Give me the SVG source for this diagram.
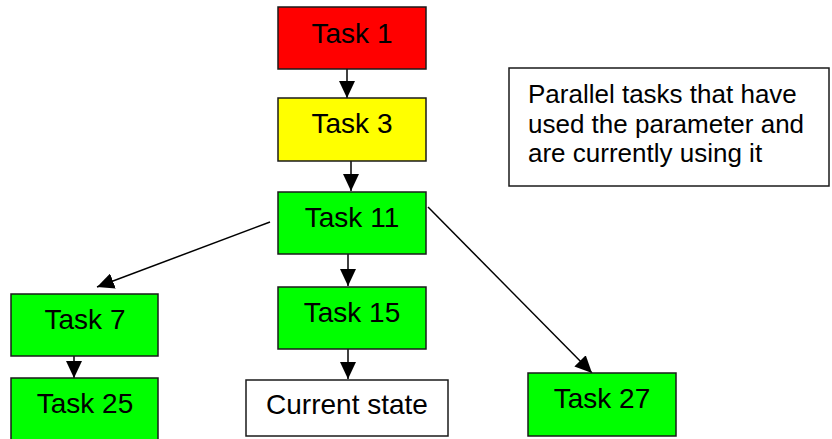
<svg xmlns="http://www.w3.org/2000/svg" width="832" height="439" viewBox="0 0 832 439">
<style>
.box{stroke:#1a1a1a;stroke-width:1.5}
.lbl{font-family:"Liberation Sans",Arial,sans-serif;font-size:28px;fill:#000;text-anchor:middle}
.note{font-family:"Liberation Sans",Arial,sans-serif;font-size:26px;fill:#000}
.edge{stroke:#000;stroke-width:1.5;fill:none;marker-end:url(#ah)}
</style>
<defs>
<marker id="ah" markerUnits="userSpaceOnUse" markerWidth="17" markerHeight="16" refX="17" refY="8" orient="auto" viewBox="0 0 17 16">
<path d="M0,0 L17,8 L0,16 z" fill="#000"/>
</marker>
</defs>
<rect width="832" height="439" fill="#fff"/>
<g id="connectors">
<line class="edge" x1="347" y1="69" x2="347" y2="98"/>
<line class="edge" x1="351" y1="161" x2="351" y2="191"/>
<line class="edge" x1="348" y1="254" x2="348" y2="286"/>
<line class="edge" x1="348" y1="349" x2="348" y2="379"/>
<line class="edge" x1="74" y1="356" x2="74" y2="378"/>
<line class="edge" x1="270" y1="222" x2="97" y2="287"/>
<line class="edge" x1="428" y1="207" x2="592" y2="373"/>
</g>
<g id="task1"><rect class="box" x="278" y="7" width="148" height="62" fill="#ff0000"/><text class="lbl" x="352" y="43">Task 1</text></g>
<g id="task3"><rect class="box" x="278" y="98" width="148" height="63" fill="#ffff00"/><text class="lbl" x="352" y="133">Task 3</text></g>
<g id="task11"><rect class="box" x="278" y="192" width="148" height="62" fill="#00ff00"/><text class="lbl" x="352" y="227">Task 11</text></g>
<g id="task15"><rect class="box" x="278" y="287" width="148" height="62" fill="#00ff00"/><text class="lbl" x="352" y="322">Task 15</text></g>
<g id="current"><rect class="box" x="246" y="380" width="202" height="56" fill="#ffffff"/><text class="lbl" x="347" y="414">Current state</text></g>
<g id="task27"><rect class="box" x="528" y="373" width="148" height="63" fill="#00ff00"/><text class="lbl" x="602" y="408">Task 27</text></g>
<g id="task7"><rect class="box" x="11" y="294" width="147" height="62" fill="#00ff00"/><text class="lbl" x="85" y="329">Task 7</text></g>
<g id="task25"><rect class="box" x="11" y="378" width="147" height="66" fill="#00ff00"/><text class="lbl" x="85" y="413">Task 25</text></g>
<g id="note"><rect class="box" x="509" y="68" width="320" height="118" fill="#ffffff"/>
<text class="note" x="528" y="103">Parallel tasks that have</text>
<text class="note" x="528" y="133">used the parameter and</text>
<text class="note" x="528" y="162">are currently using it</text></g>
</svg>
